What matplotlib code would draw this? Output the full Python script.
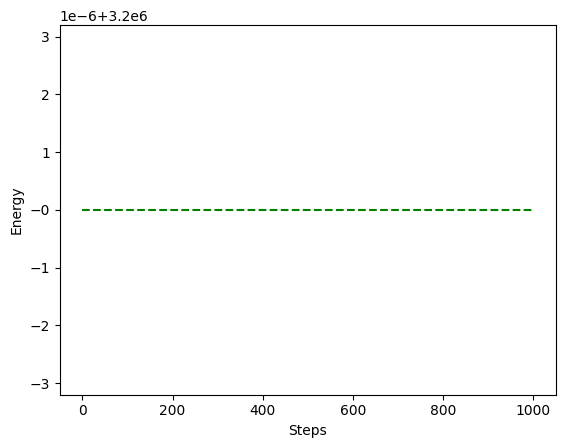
import matplotlib
matplotlib.use("Agg")
import matplotlib.pyplot as plt

steps = [0, 100, 200, 300, 400, 500, 600, 700, 800, 900, 1000]
energy = [3.2e6, 3.2e6, 3.2e6, 3.2e6, 3.2e6, 3.2e6, 3.2e6, 3.2e6, 3.2e6, 3.2e6, 3.2e6]

fig, ax = plt.subplots(figsize=(6.4, 4.8), dpi=100)
ax.plot(steps, energy, linestyle="--", color="green")
ax.set_ylim(3.2e6 - 3.2e-6, 3.2e6 + 3.2e-6)
ax.set_xlabel("Steps")
ax.set_ylabel("Energy")
fig.savefig("out.png", bbox_inches="tight")
